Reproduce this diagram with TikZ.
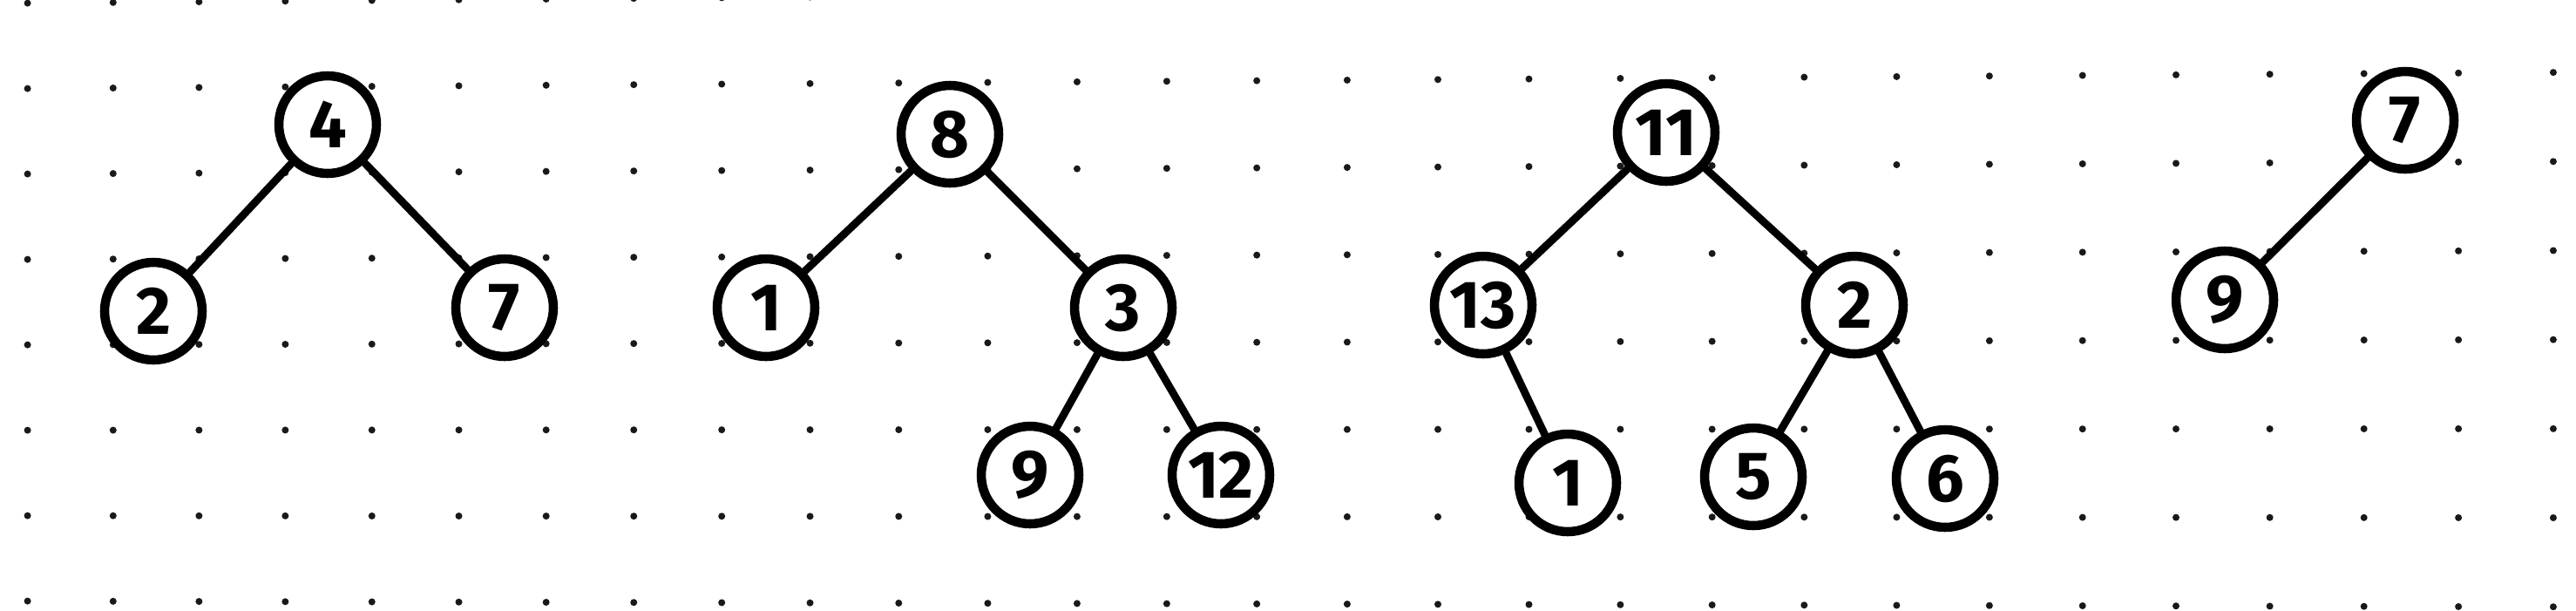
\documentclass[tikz,border=0pt]{standalone}
\usepackage{fontspec}
\setmainfont{Fira Sans}
\usepackage{tikz}

\begin{document}
\begin{tikzpicture}[
    bubble/.style={circle, draw, line width=3pt, minimum size=1.12cm, inner sep=0pt, font=\fontsize{22}{22}\selectfont\bfseries},
    branch/.style={draw, line width=2.5pt, line cap=round}]

    \useasboundingbox [fill=white] (0,0) rectangle (29.56,7);

    % dotted paper
    \foreach \i in {0,...,28} {
      \foreach \j in {0,...,7} {
        \pgfmathsetmacro{\px}{0.316+0.98*\i+0.00197*\i*\i}
        \pgfmathsetmacro{\tt}{(\px-0.30)/26.30}
        \pgfmathsetmacro{\py}{0.036+0.98*\j+(-0.206+0.038*\j)*\tt}
        \fill [black!90] (\px, {7-\py}) circle (0.04);
      }
    }

    % first tree
    \node [bubble] (a4) at (3.76,5.57) {4};
    \node [bubble] (a2) at (1.76,3.43) {2};
    \node [bubble] (a7) at (5.79,3.47) {7};

    % second tree
    \node [bubble] (b8) at (10.90,5.46) {8};
    \node [bubble] (b1) at (8.79,3.47) {1};
    \node [bubble] (b3) at (12.89,3.47) {3};
    \node [bubble] (b9) at (11.82,1.55) {9};
    \node [bubble] (b12) at (14.01,1.55) {12};

    % third tree
    \node [bubble] (c11) at (19.12,5.48) {11};
    \node [bubble] (c13) at (17.02,3.50) {13};
    \node [bubble] (c2) at (21.28,3.50) {2};
    \node [bubble] (c1) at (17.99,1.46) {1};
    \node [bubble] (c5) at (20.12,1.53) {5};
    \node [bubble] (c6) at (22.32,1.51) {6};

    % fourth tree
    \node [bubble] (d7) at (27.60,5.62) {7};
    \node [bubble] (d9) at (25.53,3.56) {9};

    \path [branch] (a4) -- (a2);
    \path [branch] (a4) -- (a7);
    \path [branch] (b8) -- (b1);
    \path [branch] (b8) -- (b3);
    \path [branch] (b3) -- (b9);
    \path [branch] (b3) -- (b12);
    \path [branch] (c11) -- (c13);
    \path [branch] (c11) -- (c2);
    \path [branch] (c13) -- (c1);
    \path [branch] (c2) -- (c5);
    \path [branch] (c2) -- (c6);
    \path [branch] (d7) -- (d9);
\end{tikzpicture}
\end{document}
